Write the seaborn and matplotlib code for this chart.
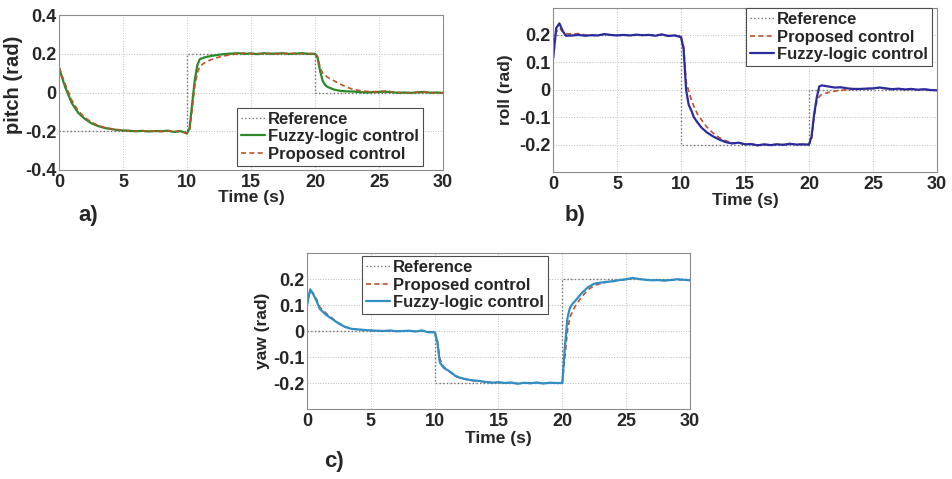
import matplotlib
matplotlib.use("Agg")
import matplotlib.pyplot as plt
import seaborn as sns

# time samples (s)
time_s = [0, 0.25, 0.5, 0.75, 1, 1.5, 2, 2.5, 3, 3.5,
          4, 4.5, 5, 5.5, 6, 6.5, 7, 7.5, 8, 8.5,
          9, 9.5, 10, 10.2, 10.4, 10.6, 10.8, 11, 11.3, 11.6,
          12, 12.5, 13, 13.5, 14, 14.5, 15, 15.5, 16, 16.5,
          17, 17.5, 18, 18.5, 19, 19.5, 20, 20.2, 20.4, 20.6,
          20.8, 21, 21.5, 22, 22.5, 23, 23.5, 24, 24.5, 25,
          25.5, 26, 26.5, 27, 27.5, 28, 28.5, 29, 29.5, 30]

# reference steps
ref_t = [0, 10, 10, 20, 20, 30]
ref_pitch = [-0.2, -0.2, 0.2, 0.2, 0.0, 0.0]
ref_roll = [0.2, 0.2, -0.2, -0.2, 0.0, 0.0]
ref_yaw = [0.0, 0.0, -0.2, -0.2, 0.2, 0.2]

# pitch (rad)
pitch_fuzzy = [0.13, 0.075, 0.025, -0.015, -0.055, -0.105, -0.135, -0.158, -0.172, -0.182,
               -0.188, -0.193, -0.196, -0.198, -0.200, -0.198, -0.201, -0.199, -0.200, -0.197,
               -0.204, -0.199, -0.212, -0.185, -0.06, 0.06, 0.14, 0.172, 0.180, 0.185,
               0.190, 0.195, 0.199, 0.201, 0.203, 0.199, 0.202, 0.198, 0.203, 0.200,
               0.201, 0.203, 0.199, 0.201, 0.203, 0.199, 0.200, 0.180, 0.110, 0.060,
               0.038, 0.028, 0.015, 0.008, 0.006, 0.005, 0.002, 0.000, 0.002, 0.003,
               0.004, 0.002, -0.002, 0.000, -0.002, 0.001, 0.003, -0.001, 0.000, -0.002]
pitch_proposed = [0.13, 0.085, 0.04, 0.0, -0.04, -0.095, -0.128, -0.152, -0.168, -0.18,
                  -0.186, -0.191, -0.195, -0.197, -0.199, -0.197, -0.200, -0.198, -0.201, -0.198,
                  -0.202, -0.200, -0.210, -0.198, -0.09, 0.03, 0.10, 0.135, 0.150, 0.162,
                  0.172, 0.183, 0.190, 0.196, 0.201, 0.204, 0.200, 0.202, 0.199, 0.202,
                  0.200, 0.202, 0.200, 0.203, 0.200, 0.201, 0.201, 0.185, 0.130, 0.100,
                  0.088, 0.078, 0.060, 0.042, 0.027, 0.016, 0.010, 0.006, 0.004, 0.005,
                  0.008, 0.003, 0.001, -0.002, -0.001, 0.001, 0.002, -0.001, -0.002, -0.001]

# roll (rad)
roll_fuzzy = [0.11, 0.225, 0.242, 0.215, 0.197, 0.198, 0.200, 0.197, 0.199, 0.198,
              0.203, 0.200, 0.198, 0.200, 0.198, 0.201, 0.199, 0.200, 0.197, 0.202,
              0.196, 0.198, 0.192, 0.150, 0.000, -0.055, -0.075, -0.100, -0.120, -0.138,
              -0.155, -0.170, -0.182, -0.191, -0.196, -0.193, -0.199, -0.198, -0.203, -0.199,
              -0.202, -0.199, -0.201, -0.197, -0.200, -0.199, -0.200, -0.170, -0.090, -0.030,
              0.012, 0.016, 0.012, 0.008, 0.009, 0.005, 0.003, 0.003, 0.004, 0.005,
              0.008, 0.005, 0.002, 0.004, 0.001, 0.003, 0.000, 0.002, -0.001, -0.002]
roll_proposed = [0.11, 0.21, 0.225, 0.212, 0.205, 0.203, 0.205, 0.200, 0.199, 0.198,
                 0.202, 0.200, 0.199, 0.200, 0.198, 0.200, 0.199, 0.201, 0.198, 0.201,
                 0.197, 0.199, 0.193, 0.160, 0.030, -0.005, -0.035, -0.060, -0.090, -0.110,
                 -0.135, -0.158, -0.175, -0.186, -0.194, -0.194, -0.198, -0.199, -0.201, -0.200,
                 -0.201, -0.199, -0.200, -0.198, -0.199, -0.200, -0.200, -0.180, -0.100, -0.045,
                 -0.025, -0.017, -0.010, -0.005, -0.002, 0.000, 0.002, 0.003, 0.004, 0.005,
                 0.007, 0.004, 0.002, 0.003, 0.001, 0.002, 0.000, 0.001, -0.001, -0.002]

# yaw (rad)
yaw_fuzzy = [0.10, 0.160, 0.140, 0.115, 0.085, 0.062, 0.045, 0.028, 0.015, 0.008,
             0.006, 0.004, 0.002, 0.001, 0.000, 0.002, -0.001, 0.000, 0.001, -0.002,
             0.002, -0.005, -0.005, -0.040, -0.120, -0.135, -0.145, -0.150, -0.160, -0.172,
             -0.180, -0.186, -0.190, -0.192, -0.196, -0.199, -0.197, -0.200, -0.198, -0.203,
             -0.199, -0.201, -0.198, -0.202, -0.199, -0.200, -0.200, -0.060, 0.050, 0.090,
             0.105, 0.115, 0.145, 0.168, 0.182, 0.186, 0.189, 0.192, 0.196, 0.199,
             0.204, 0.200, 0.197, 0.195, 0.196, 0.194, 0.196, 0.199, 0.197, 0.195]
yaw_proposed = [0.10, 0.158, 0.145, 0.122, 0.092, 0.068, 0.048, 0.030, 0.017, 0.009,
                0.006, 0.004, 0.002, 0.001, 0.000, 0.001, 0.000, 0.000, 0.001, -0.001,
                0.001, -0.004, -0.004, -0.030, -0.105, -0.130, -0.142, -0.150, -0.162, -0.173,
                -0.181, -0.187, -0.191, -0.193, -0.196, -0.198, -0.198, -0.200, -0.199, -0.202,
                -0.199, -0.201, -0.199, -0.201, -0.199, -0.200, -0.200, -0.100, 0.000, 0.054,
                0.075, 0.095, 0.130, 0.158, 0.175, 0.183, 0.188, 0.191, 0.195, 0.198,
                0.203, 0.200, 0.197, 0.195, 0.196, 0.194, 0.196, 0.198, 0.197, 0.195]

x_ticks = [0, 5, 10, 15, 20, 25, 30]
pitch_ticks = [-0.4, -0.2, 0, 0.2, 0.4]
pitch_labels = ["-0.4", "-0.2", "0", "0.2", "0.4"]
ang_ticks = [-0.2, -0.1, 0, 0.1, 0.2]
ang_labels = ["-0.2", "-0.1", "0", "0.1", "0.2"]

sns.set_style("whitegrid", {
    "grid.linestyle": ":",
    "grid.color": "0.75",
    "axes.edgecolor": "0.55",
    "xtick.direction": "in",
    "ytick.direction": "in",
})
plt.rcParams["font.family"] = ["Liberation Sans", "DejaVu Sans"]
plt.rcParams["font.weight"] = "bold"
plt.rcParams["axes.labelweight"] = "bold"

GREEN = "#2a8a2a"
ORANGE = "#bf5228"
DARKBLUE = "#2b2ba0"
LIGHTBLUE = "#2f8fc4"
REF = "0.45"

fig = plt.figure(figsize=(9.53, 4.79), dpi=100)
W, H = 953, 479


def make_ax(left, top, right, bottom):
    return fig.add_axes([left / W, 1 - bottom / H, (right - left) / W, (bottom - top) / H])


ax_a = make_ax(59, 15, 443, 170)
ax_b = make_ax(553, 7.5, 937, 172)
ax_c = make_ax(307, 253, 690, 409)


def draw_ref(ax, y):
    sns.lineplot(x=ref_t, y=y, ax=ax, color=REF, linestyle=":", linewidth=1.0,
                 sort=False, estimator=None, label="Reference")


def draw_resp(ax, y, color, dashed, label):
    line = sns.lineplot(x=time_s, y=y, ax=ax, color=color,
                        linewidth=1.2 if dashed else 1.6,
                        sort=False, estimator=None, label=label).lines[-1]
    if dashed:
        line.set_dashes((3, 2))


# a) pitch
draw_ref(ax_a, ref_pitch)
draw_resp(ax_a, pitch_fuzzy, GREEN, False, "Fuzzy-logic control")
draw_resp(ax_a, pitch_proposed, ORANGE, True, "Proposed control")
ax_a.set_ylim(-0.4, 0.4)
ax_a.set_yticks(pitch_ticks)
ax_a.set_yticklabels(pitch_labels)

# b) roll
draw_ref(ax_b, ref_roll)
draw_resp(ax_b, roll_proposed, ORANGE, True, "Proposed control")
draw_resp(ax_b, roll_fuzzy, DARKBLUE, False, "Fuzzy-logic control")
ax_b.set_ylim(-0.3, 0.3)
ax_b.set_yticks(ang_ticks)
ax_b.set_yticklabels(ang_labels)

# c) yaw
draw_ref(ax_c, ref_yaw)
draw_resp(ax_c, yaw_proposed, ORANGE, True, "Proposed control")
draw_resp(ax_c, yaw_fuzzy, LIGHTBLUE, False, "Fuzzy-logic control")
ax_c.set_ylim(-0.3, 0.3)
ax_c.set_yticks(ang_ticks)
ax_c.set_yticklabels(ang_labels)

legend_pos = {
    "a": ("lower right", (0.948, 0.026)),
    "b": ("upper right", (0.987, 0.997)),
    "c": ("upper left", (0.144, 0.981)),
}
ylabels = {"a": "pitch (rad)", "b": "roll (rad)", "c": "yaw (rad)"}
ylab_size = {"a": 14.5, "b": 12.5, "c": 12.5}
ylab_xy = {"a": (-0.094, 0.55), "b": (-0.105, 0.5), "c": (-0.096, 0.5)}
xlab_y = {"a": -0.128, "b": -0.128, "c": -0.143}

for key, ax in (("a", ax_a), ("b", ax_b), ("c", ax_c)):
    ax.set_xlim(0, 30)
    ax.set_xticks(x_ticks)
    ax.set_xticklabels([str(t) for t in x_ticks])
    ax.tick_params(labelsize=13, length=3, width=0.6, color="0.4", pad=2)
    ax.tick_params(axis="x", pad=3)
    for lbl in ax.get_xticklabels() + ax.get_yticklabels():
        lbl.set_fontweight("bold")
    ax.grid(True, linestyle=":", color="0.75", linewidth=0.7)
    for sp in ax.spines.values():
        sp.set_linewidth(0.8)
        sp.set_color("0.55")
    ax.set_xlabel("Time (s)", fontsize=12.5, fontweight="bold")
    ax.xaxis.set_label_coords(0.5, xlab_y[key])
    ax.set_ylabel(ylabels[key], fontsize=ylab_size[key], fontweight="bold")
    ax.yaxis.set_label_coords(*ylab_xy[key])
    loc, anchor = legend_pos[key]
    leg = ax.legend(loc=loc, bbox_to_anchor=anchor, fontsize=12, frameon=True,
                    fancybox=False, framealpha=1, edgecolor="0.3",
                    handlelength=1.4, handletextpad=0.2, borderpad=0.25,
                    labelspacing=0.15, borderaxespad=0.0)
    leg.get_frame().set_linewidth(0.8)
    for t in leg.get_texts():
        t.set_fontweight("bold")

fig.text(88 / W, 1 - 216 / H, "a)", fontsize=16, fontweight="bold", ha="center", va="center")
fig.text(575 / W, 1 - 215 / H, "b)", fontsize=16, fontweight="bold", ha="center", va="center")
fig.text(334 / W, 1 - 462 / H, "c)", fontsize=16, fontweight="bold", ha="center", va="center")

fig.savefig("out.png", dpi=100, facecolor="white")
